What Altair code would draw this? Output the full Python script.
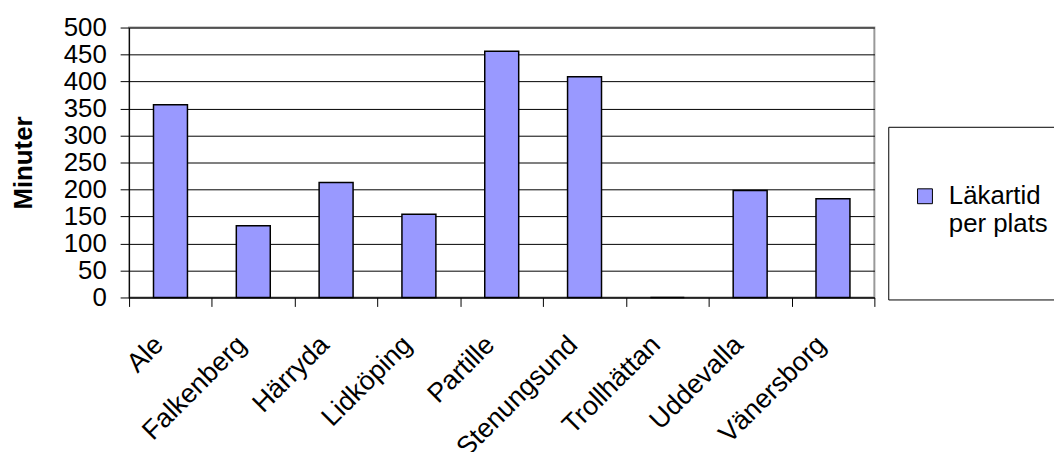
import json
import altair as alt
import pandas as pd

KOMMUNER = ["Ale", "Falkenberg", "Härryda", "Lidköping", "Partille",
            "Stenungsund", "Trollhättan", "Uddevalla", "Vänersborg"]
MINUTER = [357, 133, 213, 154, 456, 409, 0, 198, 183]
SERIE = "Läkartid per plats"
LEGEND_LINES = ["Läkartid", "per plats"]
Y_TICKS = [0, 50, 100, 150, 200, 250, 300, 350, 400, 450, 500]
Y_TITLE = "Minuter"

FONT = "Liberation Sans"

df = pd.DataFrame({
    "kommun": KOMMUNER,
    "minuter": MINUTER,
    "serie": [SERIE] * len(KOMMUNER),
})

bars = alt.Chart(df).mark_bar(
    width=alt.RelativeBandSize(0.41),
    stroke="black",
    strokeWidth=1.5,
).encode(
    x=alt.X(
        "kommun:N",
        sort=KOMMUNER,
        scale=alt.Scale(paddingInner=0, paddingOuter=0),
        axis=alt.Axis(
            title=None,
            labelAngle=-45,
            labelAlign="right",
            labelBaseline="top",
            tickBand="extent",
            tickSize=9,
            labelPadding=25,
            labelOffset=-21,
            labelFontSize=27,
            labelColor="black",
            domainColor="black",
            tickColor="black",
            grid=False,
        ),
    ),
    y=alt.Y(
        "minuter:Q",
        scale=alt.Scale(domain=[0, 500], nice=False),
        axis=alt.Axis(
            title=Y_TITLE,
            values=Y_TICKS,
            labelFontSize=26,
            labelPadding=14,
            labelColor="black",
            labelOverlap=False,
            tickSize=9,
            tickColor="black",
            domainColor="black",
            grid=True,
            gridColor="black",
            gridOpacity=1,
            gridWidth=1,
            titleFontSize=26,
            titleFontWeight="bold",
            titleColor="black",
            titleAngle=270,
            titleX=-106,
            titleY=136,
            titleAlign="center",
            titleBaseline="middle",
        ),
    ),
    color=alt.Color(
        "serie:N",
        scale=alt.Scale(range=["#9999FF"]),
        legend=alt.Legend(
            title=" ",
            titleOrient="bottom",
            titleFontSize=20,
            titlePadding=14,
            orient="none",
            legendX=765,
            legendY=100,
            padding=24,
            clipHeight=92,
            strokeColor="black",
            fillColor="white",
            symbolType="square",
            symbolSize=225,
            symbolStrokeColor="black",
            symbolStrokeWidth=1,
            symbolFillColor="#9999FF",
            labelFontSize=26,
            labelOffset=11,
            labelLimit=400,
            labelColor="black",
            labelExpr=json.dumps(LEGEND_LINES),
        ),
    ),
)

chart = bars.properties(
    width=751,
    height=272,
    autosize=alt.AutoSizeParams(type="none"),
    padding={"left": 122, "top": 18, "right": 181, "bottom": 154},
).configure(
    font=FONT,
).configure_view(
    stroke="#999999",
    strokeWidth=2,
)

chart.save("out.html", embed_options={"renderer": "svg", "actions": False})
